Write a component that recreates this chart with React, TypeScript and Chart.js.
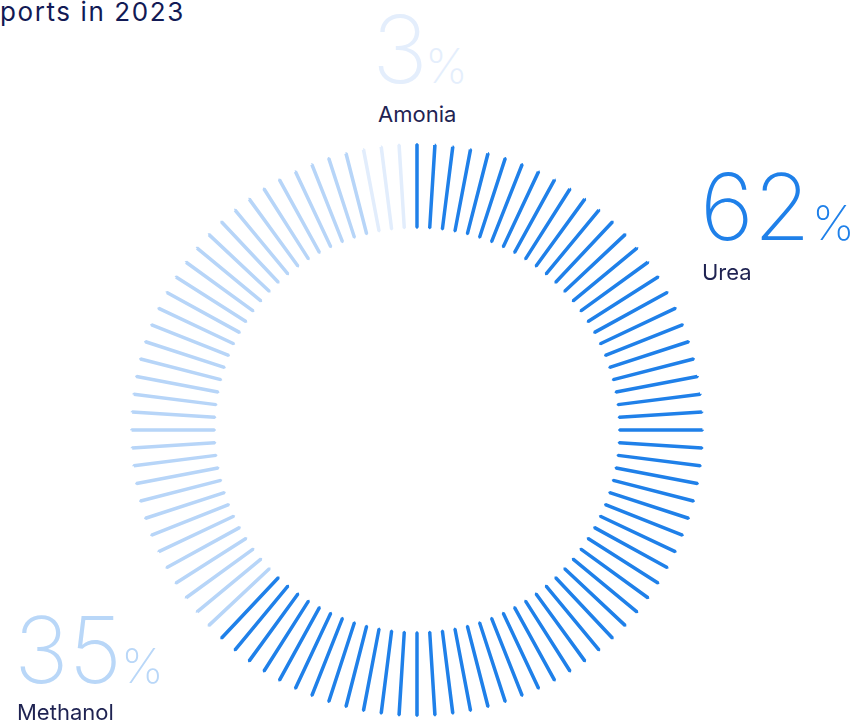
import React, { useEffect, useRef } from "react";
import { Chart, registerables } from "chart.js";

Chart.register(...registerables);

// ---- data ----
const title = "ports in 2023";
const categories = ["Urea", "Methanol", "Amonia"];
const shares = [62, 35, 3];
const tickCount = 100;
const tickColors = ["#1f80e9", "#b7d5f8", "#e2edfc"];
const labelColors = ["#1f80e9", "#b9d7f8", "#e4eefc"];

const TICK = 0.02;
const GAP = 1 - TICK;

function categoryOfTick(i: number): number {
  const end0 = shares[0];
  const end1 = shares[0] + shares[1];
  if (i <= end0) return 0;
  if (i < end1) return 1;
  return 2;
}

const FONT = "Inter, 'Noto Sans', sans-serif";

function Txt(props: {
  x: number;
  baseline: number;
  size: number;
  color: string;
  weight?: number;
  spacing?: number;
  children: React.ReactNode;
}) {
  const { x, baseline, size, color, weight = 400, spacing = 0, children } = props;
  return (
    <div
      style={{
        position: "absolute",
        left: x,
        top: baseline - 0.863 * size,
        fontSize: size,
        lineHeight: 1,
        color,
        fontWeight: weight,
        fontFamily: FONT,
        letterSpacing: spacing,
        whiteSpace: "nowrap",
      }}
    >
      {children}
    </div>
  );
}

export default function App() {
  const ref = useRef<HTMLCanvasElement | null>(null);

  useEffect(() => {
    if (!ref.current) return;
    const values: number[] = [];
    const bg: string[] = [];
    const bc: string[] = [];
    const bw: number[] = [];
    const labels: string[] = [];
    for (let i = 0; i < tickCount; i++) {
      const c = categoryOfTick(i);
      values.push(TICK, GAP);
      bg.push(tickColors[c], "rgba(0,0,0,0)");
      bc.push(tickColors[c], "rgba(0,0,0,0)");
      bw.push(3.2, 0);
      labels.push(categories[c], "");
    }
    const chart = new Chart(ref.current, {
      type: "doughnut",
      data: {
        labels,
        datasets: [
          {
            data: values,
            backgroundColor: bg,
            borderColor: bc,
            borderWidth: bw,
            borderAlign: "center",
            hoverOffset: 0,
            offset: 0,
            spacing: 0,
          },
        ],
      },
      options: {
        responsive: false,
        animation: false,
        events: [],
        cutout: "71%",
        rotation: (-TICK / 2) * (360 / tickCount),
        circumference: 360,
        layout: { padding: 0 },
        plugins: {
          legend: { display: false },
          tooltip: { enabled: false },
          title: { display: false },
        },
      },
    } as any);
    return () => chart.destroy();
  }, []);

  return (
    <div
      style={{
        position: "absolute",
        left: 0,
        top: 0,
        width: 859,
        height: 727,
        overflow: "hidden",
        background: "#ffffff",
      }}
    >
      <canvas
        ref={ref}
        width={574}
        height={574}
        style={{ position: "absolute", left: 130, top: 143, width: 574, height: 574 }}
      />
      <Txt x={0} baseline={21} size={26} color="#121a55" weight={400} spacing={1.6}>
        {title}
      </Txt>

      {/* Amonia */}
      <Txt x={372} baseline={83} size={94} color={labelColors[2]} weight={200}>
        {shares[2]}
      </Txt>
      <Txt x={425} baseline={83} size={48} color={labelColors[2]} weight={200}>
        %
      </Txt>
      <Txt x={378} baseline={122} size={22} color="#1f2352">
        {categories[2]}
      </Txt>

      {/* Urea */}
      <Txt x={700} baseline={240} size={92} color={labelColors[0]} weight={200}>
        {shares[0]}
      </Txt>
      <Txt x={812} baseline={240} size={48} color={labelColors[0]} weight={200}>
        %
      </Txt>
      <Txt x={702} baseline={280} size={22} color="#1f2352">
        {categories[0]}
      </Txt>

      {/* Methanol */}
      <Txt x={14} baseline={683} size={92} color={labelColors[1]} weight={200}>
        {shares[1]}
      </Txt>
      <Txt x={121} baseline={683} size={48} color={labelColors[1]} weight={200}>
        %
      </Txt>
      <Txt x={17} baseline={720} size={22} color="#1f2352">
        {categories[1]}
      </Txt>
    </div>
  );
}
